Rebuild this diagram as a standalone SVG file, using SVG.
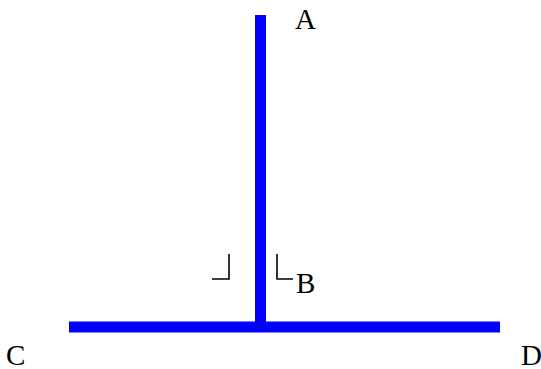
<svg xmlns="http://www.w3.org/2000/svg" width="541" height="369" viewBox="0 0 541 369">
<style>
.seg{stroke:#0000ff;stroke-width:11;fill:none}
.mark{stroke:#000;stroke-width:1.6;fill:none}
.lbl{font-family:"Liberation Serif","Times New Roman",serif;font-size:29px;fill:#000}
</style>
<rect width="541" height="369" fill="#fff"/>
<g id="connectors">
<line class="seg" x1="260.5" y1="15" x2="260.5" y2="327"/>
<line class="seg" x1="69" y1="327" x2="500" y2="327"/>
<polyline class="mark" points="212,279 229,279 229,254"/>
<polyline class="mark" points="277,254 277,279 293,279"/>
</g>
<g id="A"><text class="lbl" x="295" y="29">A</text></g>
<g id="B"><text class="lbl" x="296" y="293">B</text></g>
<g id="C"><text class="lbl" x="6" y="365">C</text></g>
<g id="D"><text class="lbl" x="521" y="365">D</text></g>
</svg>
